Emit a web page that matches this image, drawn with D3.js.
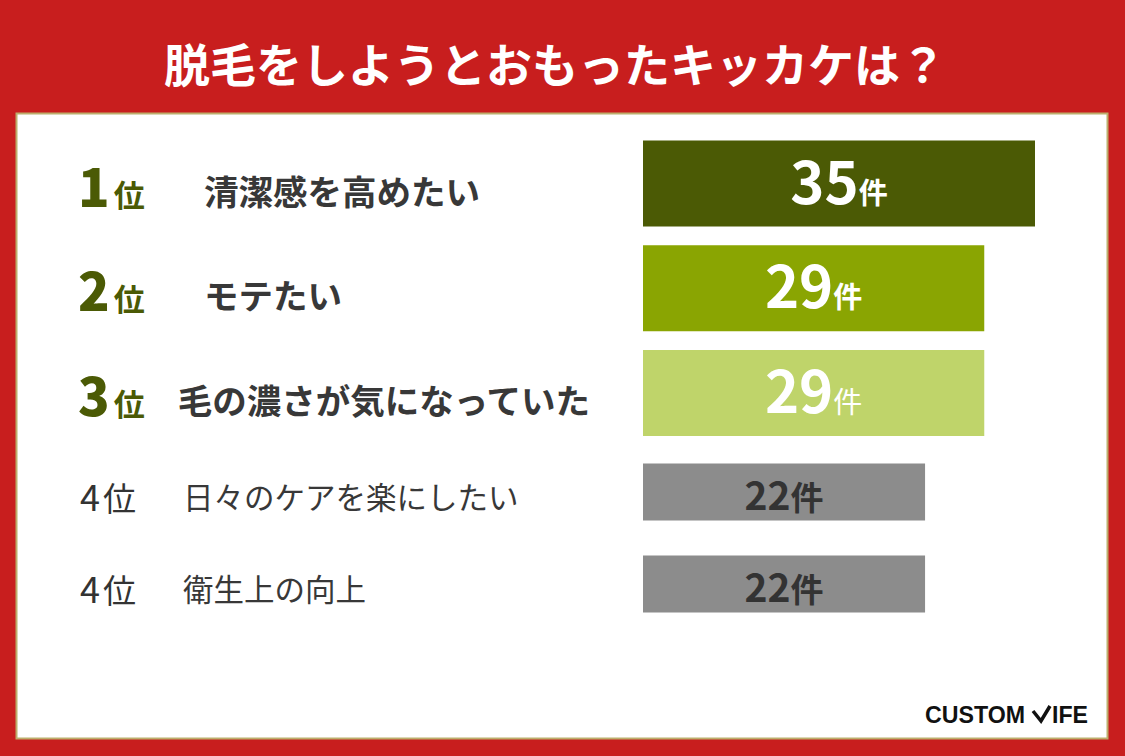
<!DOCTYPE html>
<html>
<head>
<meta charset="utf-8">
<script src="https://cdn.jsdelivr.net/npm/d3@7"></script>
<style>
  body { margin: 0; background: #c81e1e; }
  svg { display: block; }
  text { font-family: "Noto Sans CJK JP", "Noto Sans", sans-serif; }
</style>
</head>
<body>
<div id="chart"></div>
<script>
// chart data
const title = "脱毛をしようとおもったキッカケは？";
const rankNums = ["1", "2", "3", "4", "4"];
const reasons = ["清潔感を高めたい", "モテたい", "毛の濃さが気になっていた", "日々のケアを楽にしたい", "衛生上の向上"];
const counts = [35, 29, 29, 22, 22];
const unit = "件";
const barColours = ["#4b5a05", "#8aa502", "#bfd46a", "#8c8c8c", "#8c8c8c"];

const width = 1125;
const height = 756;

const svg = d3.select("#chart")
  .append("svg")
  .attr("width", width)
  .attr("height", height);

// red background + white panel
svg.append("rect")
  .attr("width", width)
  .attr("height", height)
  .attr("fill", "#c81e1e");

svg.append("rect")
  .attr("x", 16.5)
  .attr("y", 113.5)
  .attr("width", 1091)
  .attr("height", 625)
  .attr("fill", "#ffffff")
  .attr("stroke", "#bcae6c")
  .attr("stroke-width", 2);

// title
svg.append("text")
  .attr("x", 555)
  .attr("y", 82)
  .attr("text-anchor", "middle")
  .attr("fill", "#ffffff")
  .style("font-size", "46px")
  .style("font-weight", 700)
  .text(title);

const rows = counts.map((c, i) => ({
  rank: rankNums[i],
  reason: reasons[i],
  count: c,
  colour: barColours[i],
  top: i < 3
}));

// the source bars are not drawn from zero, so the range starts with an offset
const barX0 = 643;
const xScale = d3.scaleLinear()
  .domain([0, d3.max(counts)])
  .range([96, 392]);

// top 3 rows are taller than the rest
const yTop = d3.scalePoint().domain([0, 1, 2]).range([183.5, 393]);
const yRest = d3.scalePoint().domain([3, 4]).range([492, 584]);
const rowY = (i) => (i < 3 ? yTop(i) : yRest(i));
const barH = (d) => (d.top ? 86 : 57);

const row = svg.selectAll(".row")
  .data(rows)
  .join("g")
  .attr("class", "row")
  .attr("transform", (d, i) => `translate(0, ${rowY(i)})`);

// bars
row.append("rect")
  .attr("x", barX0)
  .attr("y", (d) => -barH(d) / 2)
  .attr("width", (d) => xScale(d.count))
  .attr("height", barH)
  .attr("fill", (d) => d.colour);

// value labels
const valueText = row.append("text")
  .attr("x", (d) => barX0 + xScale(d.count) / 2)
  .attr("y", (d) => (d.top ? 20 : 18))
  .attr("text-anchor", "middle")
  .attr("fill", (d) => (d.top ? "#ffffff" : "#333333"))
  .style("font-weight", 700);

valueText.append("tspan")
  .style("font-size", (d) => (d.top ? "58px" : "39px"))
  .text((d) => d.count);

valueText.append("tspan")
  .style("font-size", (d) => (d.top ? "29px" : "33px"))
  .style("font-weight", (d, i) => (i === 2 ? 400 : 700))
  .text(unit);

// rank labels
const rankText = row.append("text")
  .attr("x", (d) => (d.top ? 78 : 80))
  .attr("y", (d) => (d.top ? 23 : 19))
  .attr("fill", (d) => (d.top ? "#4b5a05" : "#333333"))
  .style("font-weight", (d) => (d.top ? 900 : 400));

rankText.append("tspan")
  .style("font-size", (d) => (d.top ? "52px" : "36px"))
  .text((d) => d.rank);

rankText.append("tspan")
  .attr("dx", (d) => (d.top ? 4 : 3))
  .style("font-size", (d) => (d.top ? "31px" : "33px"))
  .style("font-weight", (d) => (d.top ? 700 : 400))
  .text("位");

// reason labels, long ones shifted left so they stay clear of the bars
const reasonText = row.append("text")
  .attr("x", (d) => (d.top ? 204 : 183))
  .attr("y", (d) => (d.top ? 21 : 17))
  .attr("fill", "#383838")
  .style("font-size", (d) => (d.top ? "34.5px" : "30.5px"))
  .style("font-weight", (d) => (d.top ? 700 : 400))
  .text((d) => d.reason);

reasonText.each(function (d) {
  const len = this.getComputedTextLength();
  const maxRight = 590;
  if (d.top && 204 + len > maxRight) {
    d3.select(this).attr("x", maxRight - len);
  }
});

// logo
const logo = svg.append("g").attr("class", "logo");

logo.append("text")
  .attr("x", 925)
  .attr("y", 723)
  .attr("textLength", 100)
  .attr("lengthAdjust", "spacingAndGlyphs")
  .attr("fill", "#111111")
  .style("font-family", "'Liberation Sans Narrow', 'Liberation Sans', sans-serif")
  .style("font-size", "24px")
  .style("font-weight", 700)
  .text("CUSTOM");

logo.append("path")
  .attr("d", "M1033,711 L1041,721 L1050,706")
  .attr("fill", "none")
  .attr("stroke", "#111111")
  .attr("stroke-width", 3.5);

logo.append("text")
  .attr("x", 1052)
  .attr("y", 723)
  .attr("textLength", 36)
  .attr("lengthAdjust", "spacingAndGlyphs")
  .attr("fill", "#111111")
  .style("font-family", "'Liberation Sans Narrow', 'Liberation Sans', sans-serif")
  .style("font-size", "24px")
  .style("font-weight", 700)
  .text("IFE");
</script>
</body>
</html>
